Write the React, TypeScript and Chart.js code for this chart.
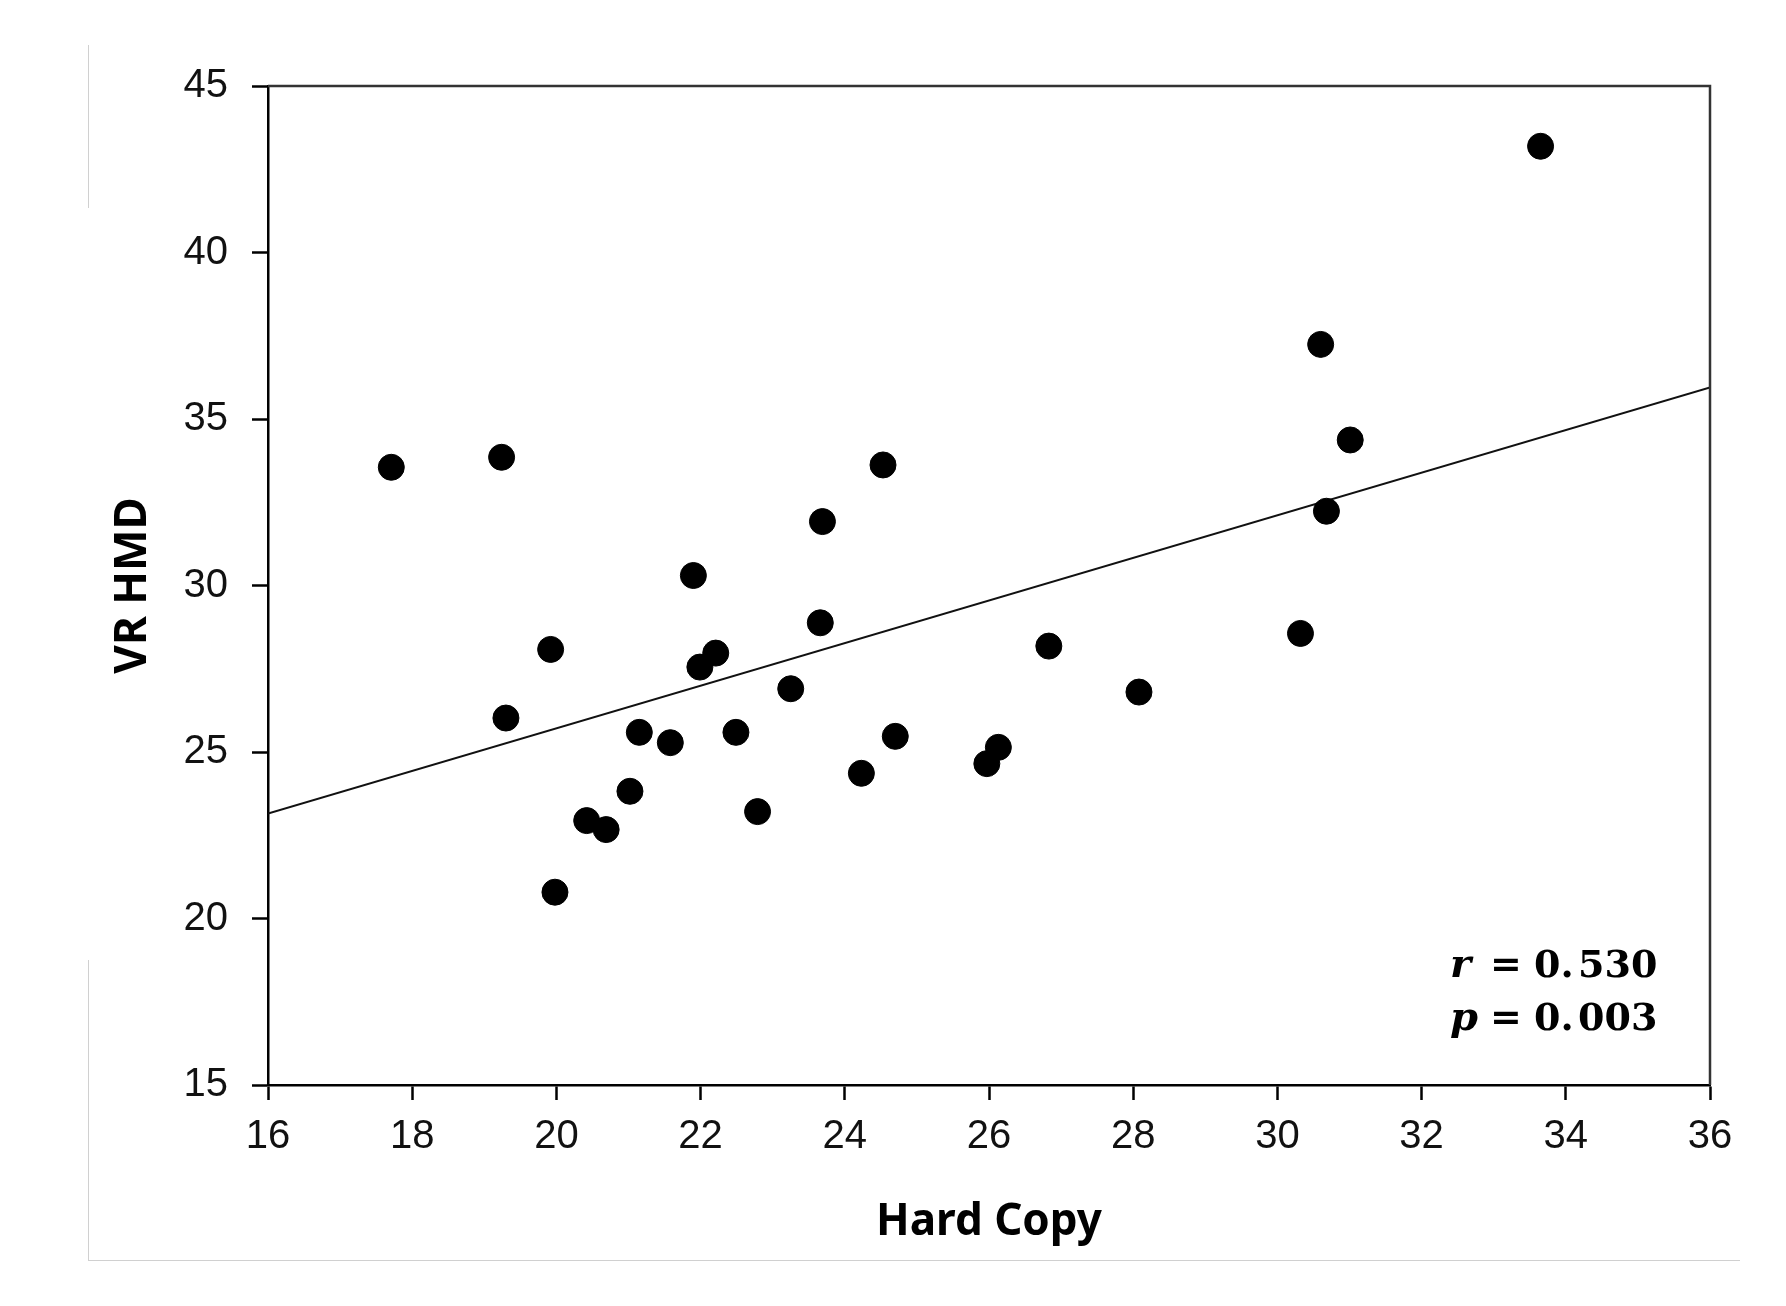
import React, { useEffect, useRef } from "react";
import { Chart, registerables } from "chart.js";

Chart.register(...registerables);

// Hard Copy (x) vs VR HMD (y) scores
const hardCopy = [
  17.71, 19.24, 19.92, 19.3, 19.98, 20.42, 20.69, 21.02, 21.15, 21.58,
  21.9, 21.99, 22.21, 22.49, 22.79, 23.25, 23.66, 23.69, 24.23, 24.53,
  24.7, 25.97, 26.13, 26.83, 28.08, 30.32, 30.6, 30.68, 31.01, 33.65,
];
const vrHmd = [
  33.55, 33.85, 28.08, 26.02, 20.79, 22.94, 22.67, 23.82, 25.59, 25.28,
  30.3, 27.55, 27.97, 25.59, 23.21, 26.9, 28.88, 31.92, 24.36, 33.62,
  25.47, 24.65, 25.14, 28.18, 26.8, 28.56, 37.24, 32.23, 34.37, 43.19,
];
// Regression line end points
const fitX = [16, 36];
const fitY = [23.15, 35.95];

const xTickValues = [16, 18, 20, 22, 24, 26, 28, 30, 32, 34, 36];
const yTickValues = [15, 20, 25, 30, 35, 40, 45];

const xTitle = "Hard Copy";
const yTitle = "VR HMD";
const statNames = ["r", "p"];
const statValues = ["0.530", "0.003"];

const W = 1786;
const H = 1306;

const framePlugin = {
  id: "framePlugin",
  afterDraw(chart: any) {
    const { ctx, chartArea } = chart;
    const { left, right, top, bottom } = chartArea;
    ctx.save();
    // faint border of the original picture
    ctx.strokeStyle = "#d0d0d0";
    ctx.lineWidth = 1;
    ctx.beginPath();
    ctx.moveTo(88.5, 45);
    ctx.lineTo(88.5, 208);
    ctx.moveTo(88.5, 960);
    ctx.lineTo(88.5, 1260);
    ctx.moveTo(88, 1260.5);
    ctx.lineTo(1740, 1260.5);
    ctx.stroke();

    // top and right frame lines
    ctx.strokeStyle = "#333";
    ctx.lineWidth = 2.5;
    ctx.beginPath();
    ctx.moveTo(left, top);
    ctx.lineTo(right, top);
    ctx.lineTo(right, bottom);
    ctx.stroke();

    // statistics annotation
    ctx.fillStyle = "#000";
    ctx.textBaseline = "alphabetic";
    ctx.textAlign = "left";
    const baseX = right - 260;
    const baseYs = [bottom - 108, bottom - 55];
    statNames.forEach((name, i) => {
      const y = baseYs[i];
      ctx.font = "italic bold 40px 'DejaVu Serif'";
      ctx.fillText(name, baseX, y);
      ctx.font = "bold 38px 'DejaVu Serif'";
      ctx.fillText("=", baseX + 40, y);
      const v = statValues[i];
      const [ip, fp] = v.split(".");
      ctx.fillText(ip + ".", baseX + 84, y);
      ctx.fillText(fp, baseX + 128, y);
    });
    ctx.restore();
  },
};

export default function App() {
  const canvasRef = useRef<HTMLCanvasElement | null>(null);

  useEffect(() => {
    const canvas = canvasRef.current;
    if (!canvas) return;
    const points = hardCopy.map((x, i) => ({ x, y: vrHmd[i] }));
    const fit = fitX.map((x, i) => ({ x, y: fitY[i] }));

    const tickFont = { family: "'Liberation Sans', Arial, sans-serif", size: 40 };
    const titleFont = { family: "'Noto Sans', sans-serif", size: 44, weight: "bold" as const };

    const chart = new Chart(canvas, {
      type: "scatter",
      data: {
        datasets: [
          {
            type: "scatter",
            data: points,
            backgroundColor: "#000",
            borderColor: "#000",
            borderWidth: 1,
            pointRadius: 13,
            order: 0,
          },
          {
            type: "line",
            data: fit,
            borderColor: "#111",
            borderWidth: 2,
            pointRadius: 0,
            fill: false,
            order: 1,
          } as any,
        ],
      },
      options: {
        responsive: false,
        animation: false,
        devicePixelRatio: 1,
        layout: { padding: { left: 0, top: 86, right: 76, bottom: 0 } },
        plugins: {
          legend: { display: false },
          tooltip: { enabled: false },
        },
        scales: {
          x: {
            type: "linear",
            position: "bottom",
            min: 16,
            max: 36,
            afterBuildTicks: (s: any) => {
              s.ticks = xTickValues.map((v) => ({ value: v }));
            },
            afterFit: (s: any) => {
              s.height = 221;
            },
            ticks: {
              font: tickFont,
              color: "#111",
              padding: 13,
              maxRotation: 0,
              autoSkip: false,
              callback: (v: any) => String(v),
            },
            grid: {
              display: true,
              drawOnChartArea: false,
              drawTicks: true,
              tickLength: 15,
              tickColor: "#000",
              tickWidth: 2.5,
            },
            border: { display: true, color: "#000", width: 2.5 },
            title: {
              display: true,
              text: xTitle,
              font: titleFont,
              color: "#000",
              padding: { top: 0, bottom: 57 },
            },
          },
          y: {
            type: "linear",
            position: "left",
            min: 15,
            max: 45,
            afterBuildTicks: (s: any) => {
              s.ticks = yTickValues.map((v) => ({ value: v }));
            },
            afterFit: (s: any) => {
              s.width = 268;
            },
            ticks: {
              font: tickFont,
              color: "#111",
              padding: 24,
              autoSkip: false,
              callback: (v: any) => String(v),
            },
            grid: {
              display: true,
              drawOnChartArea: false,
              drawTicks: true,
              tickLength: 16,
              tickColor: "#000",
              tickWidth: 2.5,
            },
            border: { display: true, color: "#000", width: 2.5 },
            title: {
              display: true,
              text: yTitle,
              font: titleFont,
              color: "#000",
              padding: { top: 107, bottom: 0 },
            },
          },
        },
      },
      plugins: [framePlugin],
    });

    return () => {
      chart.destroy();
    };
  }, []);

  return (
    <canvas
      ref={canvasRef}
      width={W}
      height={H}
      style={{ position: "fixed", left: 0, top: 0, width: W, height: H, background: "#fff" }}
    />
  );
}
